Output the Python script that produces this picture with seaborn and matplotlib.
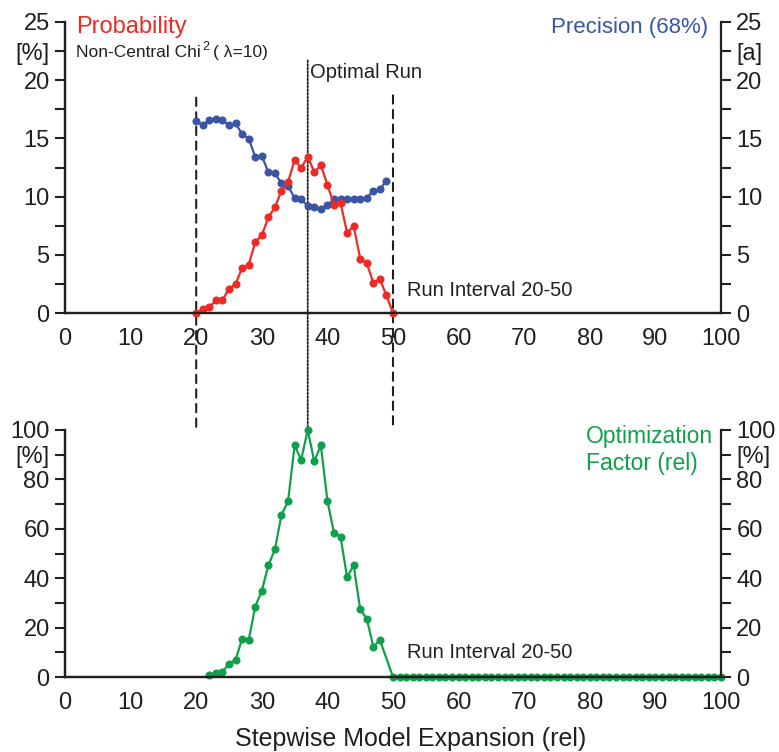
import numpy as np
import pandas as pd
import matplotlib
matplotlib.use("Agg")
import matplotlib.pyplot as plt
import seaborn as sns
from matplotlib.patches import ConnectionPatch
from matplotlib.ticker import FixedLocator

# ---------------- data ----------------
prob_x = list(range(20, 51))
prob_vals = [0, 0.32, 0.49, 1.09, 1.09, 2.09, 2.49, 3.87, 4.15, 6.1, 6.67, 8.22, 9.08,
             10.5, 11.25, 13.14, 12.46, 13.43, 12.11, 12.69, 11.03, 9.3, 9.48, 6.9,
             7.47, 4.67, 4.27, 2.6, 2.89, 1.52, 0]

prec_x = list(range(20, 50))
prec_vals = [16.52, 16.12, 16.58, 16.69, 16.58, 16.12, 16.3, 15.38, 14.98, 13.43,
             13.49, 12.11, 12.0, 11.14, 10.91, 9.88, 9.77, 9.19, 9.13, 8.91, 9.25,
             9.77, 9.82, 9.77, 9.77, 9.82, 9.88, 10.5, 10.62, 11.37]

opt_x = list(range(22, 49)) + list(range(50, 101))
opt_vals = [0.8, 1.75, 2.16, 5.26, 6.9, 15.5, 15.0, 28.5, 34.9, 45.2, 51.7, 65.7,
            71.1, 93.8, 87.9, 100, 87.3, 93.8, 71.4, 58.4, 56.8, 40.4, 45.2, 27.4,
            23.6, 12.3, 15.0] + [0] * 51

x_ticks = [0, 10, 20, 30, 40, 50, 60, 70, 80, 90, 100]
top_left_ticks = [0, 5, 10, 15, 20, 22.5, 25]
top_left_labels = ["0", "5", "10", "15", "20", "[%]", "25"]
top_right_labels = ["0", "5", "10", "15", "20", "[a]", "25"]
bot_ticks = [0, 20, 40, 60, 80, 90, 100]
bot_labels = ["0", "20", "40", "60", "80", "[%]", "100"]

run_interval = [20, 50]
optimal_run = 37

# ---------------- style ----------------
sns.set_theme(style="white")
plt.rcParams["font.family"] = ["Liberation Sans", "DejaVu Sans"]
TXT = "#231F20"
RED = "#EE2A24"
BLUE = "#3B55A5"
GREEN = "#10A04B"
TICKFONT = ["Liberation Sans Narrow", "Liberation Sans", "DejaVu Sans"]

W, H = 779, 752
fig = plt.figure(figsize=(W / 100, H / 100), dpi=100)


def fx(px):
    return px / W


def fy(py):
    return 1 - py / H


L, R = 65, 721
ax1 = fig.add_axes([fx(L), fy(313), (R - L) / W, (313 - 22) / H])
ax2 = fig.add_axes([fx(L), fy(677), (R - L) / W, (677 - 430) / H])
ax1r = ax1.twinx()
ax2r = ax2.twinx()

df_prob = pd.DataFrame({"x": prob_x, "y": prob_vals})
df_prec = pd.DataFrame({"x": prec_x, "y": prec_vals})
df_opt = pd.DataFrame({"x": opt_x, "y": opt_vals})

kw = dict(marker="o", markersize=5.8, markeredgewidth=0, linewidth=1.6, clip_on=False)
sns.lineplot(data=df_prec, x="x", y="y", ax=ax1r, color=BLUE, **kw)
sns.lineplot(data=df_prob, x="x", y="y", ax=ax1, color=RED, **kw)
sns.lineplot(data=df_opt, x="x", y="y", ax=ax2, color=GREEN, **kw)
ax1.set_zorder(ax1r.get_zorder() + 1)
ax1.patch.set_visible(False)

for a in (ax1, ax1r):
    a.set_ylim(0, 25)
for a in (ax2, ax2r):
    a.set_ylim(0, 100)
for a in (ax1, ax2, ax1r, ax2r):
    a.set_xlim(0, 100)
    a.set_xlabel("")
    a.set_ylabel("")
    a.spines["top"].set_visible(False)
    for s in ("left", "right", "bottom"):
        a.spines[s].set_linewidth(1.6)
        a.spines[s].set_color(TXT)
    a.tick_params(which="both", direction="out", length=7, width=1.5, color=TXT,
                  labelcolor=TXT, pad=4)

ax1.set_xticks(x_ticks)
ax2.set_xticks(x_ticks)
ax1.set_yticks(top_left_ticks)
ax1.set_yticklabels(top_left_labels)
ax1r.set_yticks(top_left_ticks)
ax1r.set_yticklabels(top_right_labels)
ax1.yaxis.set_minor_locator(FixedLocator([2.5, 7.5, 12.5, 17.5]))
ax1r.yaxis.set_minor_locator(FixedLocator([2.5, 7.5, 12.5, 17.5]))
ax2.set_yticks(bot_ticks)
ax2.set_yticklabels(bot_labels)
ax2r.set_yticks(bot_ticks)
ax2r.set_yticklabels(bot_labels)
ax2.yaxis.set_minor_locator(FixedLocator([10, 30, 50, 70]))
ax2r.yaxis.set_minor_locator(FixedLocator([10, 30, 50, 70]))
ax1.spines["right"].set_visible(False)
ax2.spines["right"].set_visible(False)

for a in (ax1, ax2, ax1r, ax2r):
    for lab in a.get_xticklabels() + a.get_yticklabels():
        lab.set_fontfamily(TICKFONT)
        lab.set_fontsize(17)

# ---------------- vertical reference lines ----------------
for xv, ytop in zip(run_interval, [18.5, 18.7]):
    cp = ConnectionPatch(xyA=(xv, ytop), coordsA=ax1.transData,
                         xyB=(xv, 0), coordsB=ax2.transData,
                         linestyle=(0, (4, 3)), linewidth=1.5, color=TXT, zorder=0)
    fig.add_artist(cp)
cp = ConnectionPatch(xyA=(optimal_run, 21.7), coordsA=ax1.transData,
                     xyB=(optimal_run, 0), coordsB=ax2.transData,
                     linestyle=(0, (1, 1)), linewidth=1.3, color=TXT, zorder=0)
fig.add_artist(cp)

# ---------------- texts ----------------
fig.text(fx(76), fy(33), "Probability", color=RED, fontsize=17, va="baseline")
t1 = fig.text(fx(76), fy(57), "Non-Central Chi", color=TXT, fontsize=12.5, va="baseline")
fig.canvas.draw()
bb = t1.get_window_extent()
t2 = fig.text((bb.x1 + 2) / W, fy(50), "2", color=TXT, fontsize=9, va="baseline")
fig.canvas.draw()
bb2 = t2.get_window_extent()
fig.text((bb2.x1 + 3) / W, fy(57), "( \u03bb=10)", color=TXT, fontsize=12.5, va="baseline")

fig.text(fx(708), fy(33), "Precision (68%)", color=BLUE, fontsize=16, va="baseline", ha="right")
fig.text(fx(310), fy(78), "Optimal Run", color=TXT, fontsize=14.5, va="baseline")
fig.text(fx(407), fy(296), "Run Interval 20-50", color=TXT, fontsize=14.5, va="baseline")
fig.text(fx(407), fy(658), "Run Interval 20-50", color=TXT, fontsize=14.5, va="baseline")
fig.text(fx(586), fy(443), "Optimization", color=GREEN, fontsize=16.5, va="baseline")
fig.text(fx(586), fy(470), "Factor (rel)", color=GREEN, fontsize=16.5, va="baseline")
fig.text(fx(411), fy(746), "Stepwise Model Expansion (rel)", color=TXT, fontsize=18,
         va="baseline", ha="center")

fig.savefig("out.png", dpi=100)
